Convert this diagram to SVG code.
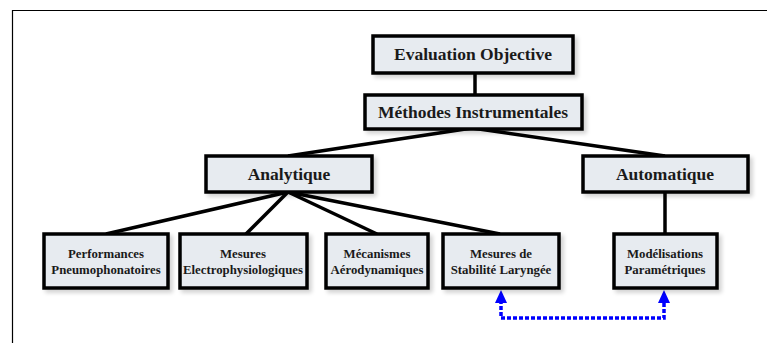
<svg xmlns="http://www.w3.org/2000/svg" width="767" height="343" viewBox="0 0 767 343">
  <defs>
    <filter id="shadow" x="-10%" y="-20%" width="130%" height="160%">
      <feGaussianBlur in="SourceAlpha" stdDeviation="2"/>
      <feOffset dx="3" dy="3" result="b"/>
      <feComponentTransfer><feFuncA type="linear" slope="0.18"/></feComponentTransfer>
      <feMerge><feMergeNode/><feMergeNode in="SourceGraphic"/></feMerge>
    </filter>
    <!-- upward arrowhead, tip at origin -->
    <path id="headUp" d="M0,0 L-6,13 L6,13 Z" fill="#0000ff"/>
  </defs>
  <style>
    .box { fill: #e7ebf0; stroke: #000; stroke-width: 3.5; filter: url(#shadow); }
    .big { font-family: "Liberation Serif", "Times New Roman", serif; font-weight: bold; font-size: 17.5px; fill: #1a1a1a; text-anchor: middle; }
    .small { font-family: "Liberation Serif", "Times New Roman", serif; font-weight: bold; font-size: 12.8px; fill: #1a1a1a; text-anchor: middle; }
    .link { stroke: #000; stroke-width: 3.5; fill: none; }
    .dotted { stroke: #0000ff; stroke-width: 3.5; fill: none; stroke-dasharray: 4 2; }
  </style>

  <!-- outer frame (top and left edges) -->
  <path d="M12.5,343 L12.5,10.5 L767,10.5" fill="none" stroke="#000" stroke-width="1.2"/>

  <!-- connectors -->
  <g id="connectors">
    <line class="link" x1="475" y1="73" x2="475" y2="94"/>
    <line class="link" x1="472" y1="128" x2="288" y2="156"/>
    <line class="link" x1="472" y1="128" x2="665" y2="156"/>
    <line class="link" x1="288" y1="192" x2="106" y2="234"/>
    <line class="link" x1="288" y1="192" x2="246" y2="234"/>
    <line class="link" x1="288" y1="192" x2="377" y2="234"/>
    <line class="link" x1="288" y1="192" x2="500" y2="234"/>
    <line class="link" x1="665" y1="192" x2="665" y2="234"/>
    <path class="dotted" d="M501,300 L501,318 L664,318 L664,300"/>
    <use href="#headUp" x="501" y="290"/>
    <use href="#headUp" x="664" y="290"/>
  </g>

  <g id="evaluation">
    <rect class="box" x="373" y="36" width="200" height="37"/>
    <text class="big" x="473" y="60">Evaluation Objective</text>
  </g>
  <g id="methodes">
    <rect class="box" x="365" y="95" width="217" height="34"/>
    <text class="big" x="473" y="118">Méthodes Instrumentales</text>
  </g>
  <g id="analytique">
    <rect class="box" x="206" y="156" width="166" height="36"/>
    <text class="big" x="289" y="180">Analytique</text>
  </g>
  <g id="automatique">
    <rect class="box" x="583" y="156" width="165" height="36"/>
    <text class="big" x="665" y="180">Automatique</text>
  </g>
  <g id="performances">
    <rect class="box" x="44" y="234" width="124" height="54"/>
    <text class="small" x="106" y="258">Performances</text>
    <text class="small" x="106" y="274">Pneumophonatoires</text>
  </g>
  <g id="electrophysiologiques">
    <rect class="box" x="180" y="234" width="127" height="54"/>
    <text class="small" x="243" y="258">Mesures</text>
    <text class="small" x="243" y="274">Electrophysiologiques</text>
  </g>
  <g id="aerodynamiques">
    <rect class="box" x="326" y="234" width="102" height="54"/>
    <text class="small" x="377" y="258">Mécanismes</text>
    <text class="small" x="377" y="274">Aérodynamiques</text>
  </g>
  <g id="stabilite">
    <rect class="box" x="443" y="234" width="116" height="54"/>
    <text class="small" x="501" y="258">Mesures de</text>
    <text class="small" x="501" y="274">Stabilité Laryngée</text>
  </g>
  <g id="modelisations">
    <rect class="box" x="614" y="234" width="103" height="54"/>
    <text class="small" x="665" y="258">Modélisations</text>
    <text class="small" x="665" y="274">Paramétriques</text>
  </g>
</svg>
